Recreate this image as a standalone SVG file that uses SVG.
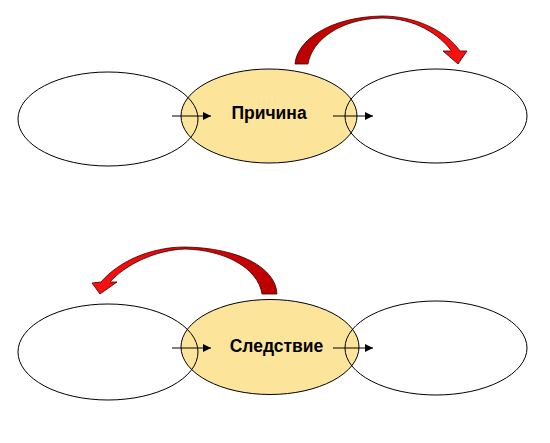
<svg xmlns="http://www.w3.org/2000/svg" width="550" height="443" viewBox="0 0 550 443">
<style>
.side{fill:none;stroke:#000;stroke-width:1}
.mid{fill:#FDE49B;stroke:#000;stroke-width:1}
.lbl{font-family:"Liberation Sans",Arial,sans-serif;font-weight:bold;font-size:17.5px;fill:#000;text-anchor:middle}
.conn{stroke:#000;stroke-width:1;fill:none;marker-end:url(#ah)}
.curve{stroke:#3a0000;stroke-width:0.8;stroke-linejoin:miter}
</style>
<defs>
<marker id="ah" viewBox="0 0 10 10" refX="10" refY="5" markerWidth="9" markerHeight="8" markerUnits="userSpaceOnUse" orient="auto">
<path d="M0,0 L10,5 L0,10 Z" fill="#000"/>
</marker>
<linearGradient id="gTop" x1="0" y1="0" x2="1" y2="0">
<stop offset="0" stop-color="#b80000"/>
<stop offset="1" stop-color="#ff1010"/>
</linearGradient>
<linearGradient id="gBot" x1="1" y1="0" x2="0" y2="0">
<stop offset="0" stop-color="#b80000"/>
<stop offset="1" stop-color="#ff1010"/>
</linearGradient>
</defs>
<rect width="550" height="443" fill="#fff"/>
<g id="row1">
<g id="cause"><ellipse class="mid" cx="269" cy="116" rx="88" ry="47"/><text class="lbl" x="269" y="119">Причина</text></g>
<g id="before1"><ellipse class="side" cx="108" cy="119" rx="90" ry="47"/></g>
<g id="after1"><ellipse class="side" cx="436" cy="116" rx="91" ry="47"/></g>
</g>
<g id="row2">
<g id="effect"><ellipse class="mid" cx="270" cy="347" rx="89" ry="47.5"/><text class="lbl" x="276.5" y="351.5">Следствие</text></g>
<g id="before2"><ellipse class="side" cx="108" cy="352" rx="90" ry="48"/></g>
<g id="after2"><ellipse class="side" cx="436" cy="348" rx="91" ry="47"/></g>
</g>
<g id="connectors">
<line class="conn" x1="172" y1="116" x2="211" y2="116"/>
<line class="conn" x1="333" y1="116" x2="373" y2="116"/>
<line class="conn" x1="172" y1="348" x2="211" y2="348"/>
<line class="conn" x1="333" y1="348" x2="373" y2="348"/>
<path id="curveTop" class="curve" fill="url(#gTop)" d="M295,64 C297,40 330,17 382,16 C415,16 445,30 460,51 L467,51 L458,64 L443,51 L451.5,51 C440,35 415,18 382,18 C340,19 312,40 308,64 Z"/>
<path id="curveBottom" class="curve" fill="url(#gBot)" d="M277,294 C276,268 240,248 185,247 C150,247 118,262 101,282 L92,283 L100,294 L117,282 L110,282 C125,265 155,250 185,249 C225,250 258,268 262,294 Z"/>
</g>
</svg>
